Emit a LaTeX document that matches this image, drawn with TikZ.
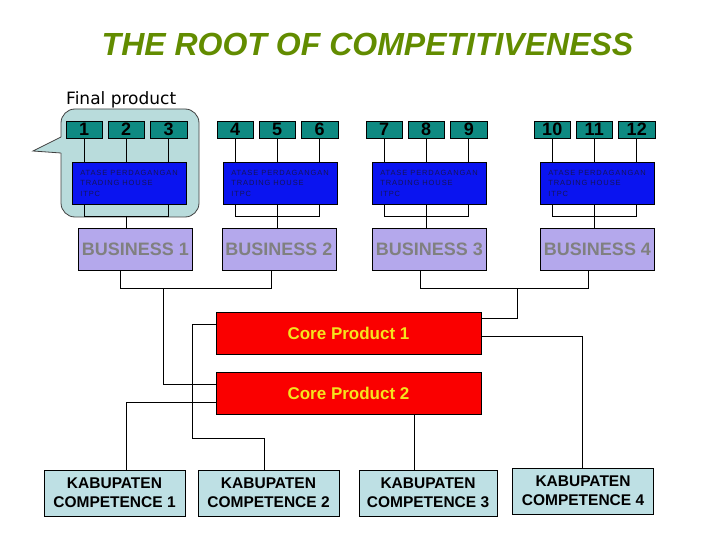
\documentclass[tikz,border=0pt]{standalone}
\usepackage{fontspec}
\setmainfont{Liberation Sans}
\newfontfamily\captionfont{DejaVu Sans}
\newfontfamily\agentfont[LetterSpace=12]{Liberation Sans}

\definecolor{titlegreen}{RGB}{98,140,0}
\definecolor{numteal}{RGB}{14,138,130}
\definecolor{agentblue}{RGB}{10,20,240}
\definecolor{agenttext}{RGB}{20,20,90}
\definecolor{bizfill}{RGB}{180,168,236}
\definecolor{bizgray}{RGB}{128,128,128}
\definecolor{corefill}{RGB}{250,0,0}
\definecolor{coretext}{RGB}{245,228,30}
\definecolor{kabfill}{RGB}{190,224,228}
\definecolor{calloutfill}{RGB}{185,220,220}

\tikzset{
  numbox/.style={draw, line width=0.8pt, fill=numteal, minimum width=36.5pt, minimum height=17pt, inner sep=0pt, font=\bfseries\fontsize{18}{18}\selectfont},
  agentbox/.style={draw, line width=0.8pt, fill=agentblue, text=agenttext, minimum width=114pt, inner sep=0pt, minimum height=42pt, align=left, font=\agentfont\fontsize{7.5}{10.5}\selectfont},
  bizbox/.style={draw, line width=0.8pt, fill=bizfill, text=bizgray, minimum width=114pt, minimum height=42pt, inner sep=0pt, font=\bfseries\fontsize{18}{18}\selectfont},
  corebox/.style={draw, line width=0.8pt, fill=corefill, text=coretext, minimum width=265pt, minimum height=42pt, inner sep=0pt, font=\bfseries\fontsize{17}{17}\selectfont},
  kabbox/.style={draw, line width=0.8pt, fill=kabfill, minimum width=141pt, minimum height=46pt, inner sep=0pt, align=center, font=\bfseries\fontsize{15.5}{19}\selectfont},
  link/.style={draw, line width=0.8pt}
}

\begin{document}
\begin{tikzpicture}[x=1pt,y=-1pt]
\useasboundingbox (0,0) rectangle (720,540);

\node[anchor=base, font=\bfseries\itshape\fontsize{32}{32}\selectfont, text=titlegreen] (title) at (367.5,56) {THE ROOT OF COMPETITIVENESS};
\node[anchor=base west, inner sep=0pt, font=\captionfont\fontsize{17}{17}\selectfont] (final) at (66,105) {Final product};

% callout round the first group
\draw[line width=0.8pt, draw=black!75, fill=calloutfill, rounded corners=14pt] (61,109) rectangle (199,217);
\fill[calloutfill] (62,137) -- (33,151) -- (62,153) -- cycle;
\draw[line width=0.8pt, draw=black!75] (61,137) -- (33,151) -- (61,153);

\foreach \g/\x/\bx/\ox in {1/66/135.5/120, 2/217/279/271, 3/366/429.5/420, 4/534/597.5/588}{
  \pgfmathtruncatemacro\nl{3*\g-2}
  \pgfmathtruncatemacro\nm{3*\g-1}
  \pgfmathtruncatemacro\nr{3*\g}
  \node[numbox] (n\nl) at (\x+18.25,129.5) {\nl};
  \node[numbox] (n\nm) at (\x+60.25,129.5) {\nm};
  \node[numbox] (n\nr) at (\x+102.75,129.5) {\nr};
  \node[agentbox] (a\g) at (\x+63,183) {ATASE PERDAGANGAN\\TRADING HOUSE\\ITPC};
  \node[bizbox] (b\g) at (\bx,249) {BUSINESS \g};
  \coordinate (o\g) at (\ox,270);
  \foreach \n in {\nl,\nm,\nr}
    \draw[link] (n\n.south) -- (n\n |- a\g.north);
  \draw[link] (n\nl |- a\g.south) -- ++(0,12) -| (n\nr |- a\g.south);
  \ifnum\g=1
    \draw[link] (n\nm |- 0,216) -- (n\nm |- b\g.north);
  \else
    \draw[link] (n\nm |- a\g.south) -- (n\nm |- b\g.north);
  \fi
}

\node[corebox] (cp1) at (348.5,333) {Core Product 1};
\node[corebox] (cp2) at (348.5,393) {Core Product 2};

\node[kabbox] (k1) at (114.5,493) {KABUPATEN\\COMPETENCE 1};
\node[kabbox] (k2) at (268.5,493) {KABUPATEN\\COMPETENCE 2};
\node[kabbox, minimum width=138pt] (k3) at (428,493) {KABUPATEN\\COMPETENCE 3};
\node[kabbox] (k4) at (583,491) {KABUPATEN\\COMPETENCE 4};

% business to core products
\draw[link] (o1) -- ++(0,18) -| (o2);
\draw[link] (o3) -- ++(0,18) -| (o4);
\coordinate (lj) at (163,288);
\coordinate (rj) at (517,288);
\draw[link] (lj) |- ([yshift=9pt]cp2.west);
\draw[link] (rj) |- ([yshift=15pt]cp1.east);

% core products to competences
\coordinate (bend) at (192,438);
\draw[link] ([yshift=9pt]cp1.west) -| (bend) -| ([xshift=-4.5pt]k2.north);
\draw[link] ([yshift=-9pt]cp2.west) -| ([xshift=11.5pt]k1.north);
\draw[link] ([xshift=65.5pt]cp2.south) -- ([xshift=-14pt]k3.north);
\draw[link] ([yshift=-3pt]cp1.east) -| ([xshift=-1pt]k4.north);
\end{tikzpicture}
\end{document}
